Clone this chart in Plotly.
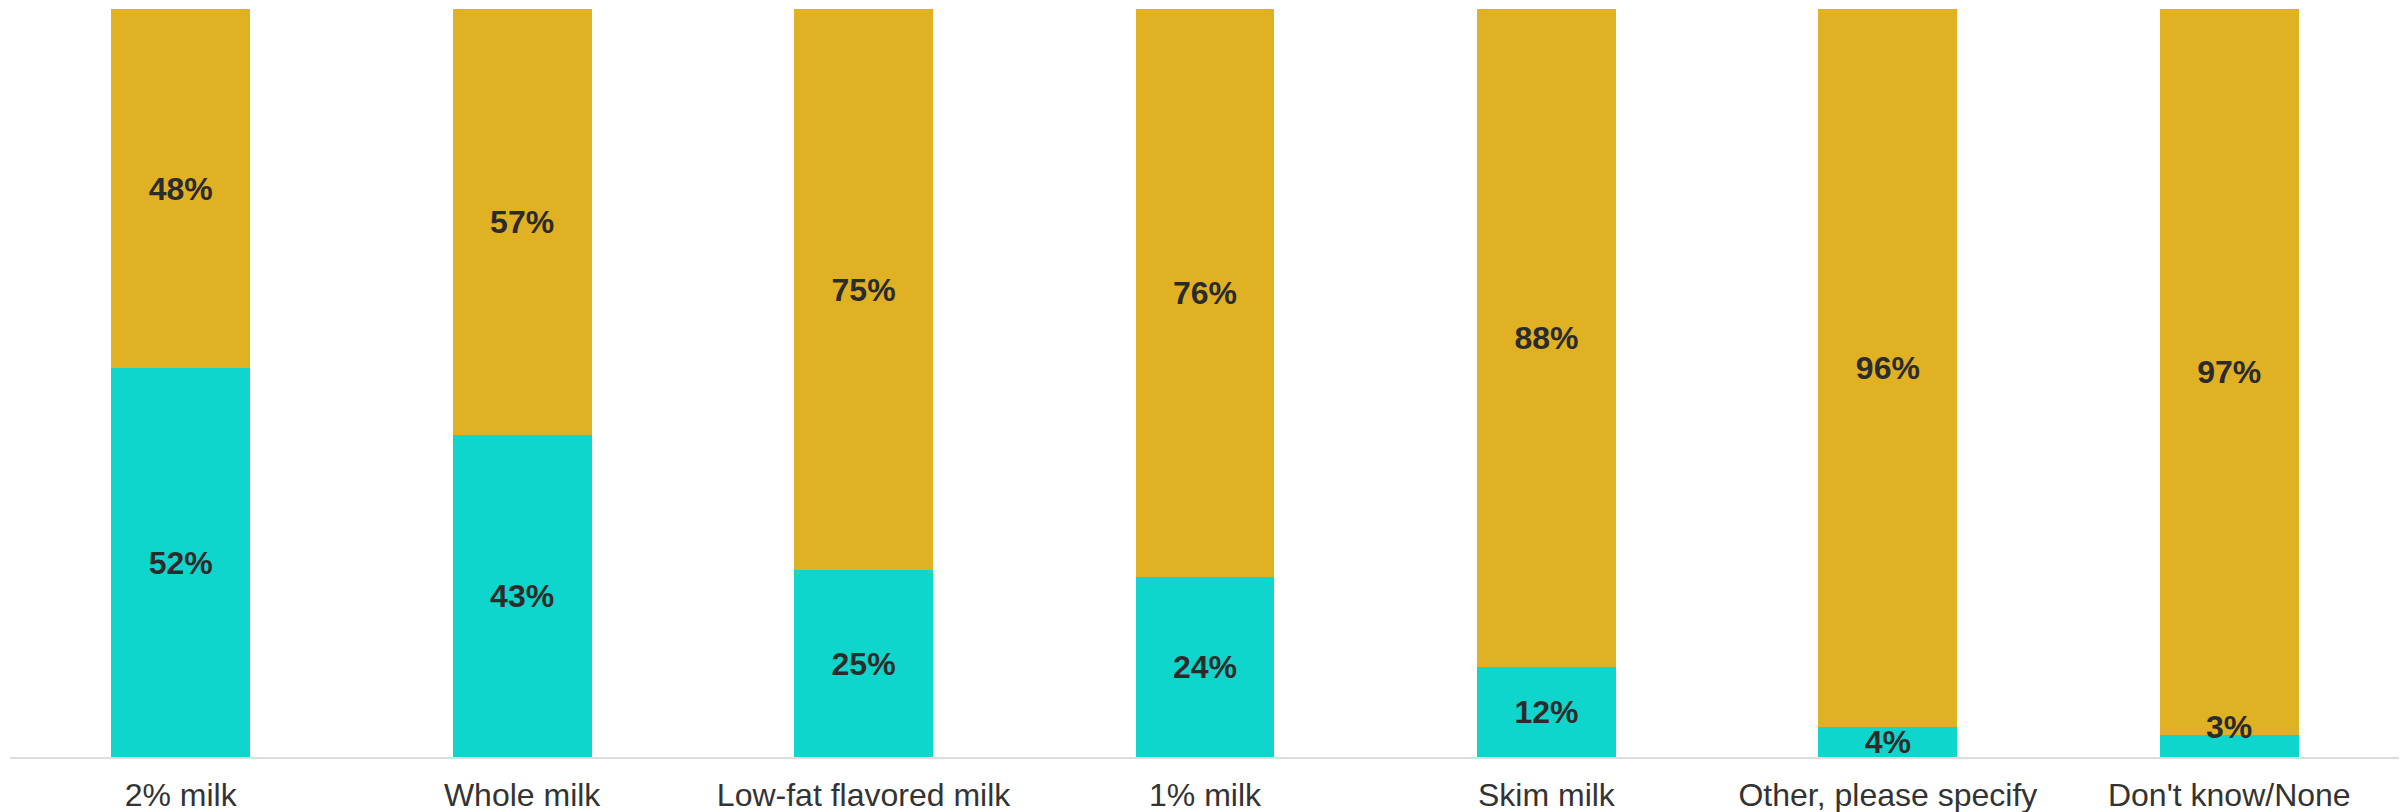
import plotly.graph_objects as go

categories = ["2% milk", "Whole milk", "Low-fat flavored milk", "1% milk",
              "Skim milk", "Other, please specify", "Don't know/None"]
yes_values = [52, 43, 25, 24, 12, 4, 3]
no_values = [48, 57, 75, 76, 88, 96, 97]

teal = "#0fd6cc"
gold = "#e1b124"
font_family = "Liberation Sans, Arial, sans-serif"
label_font = dict(family=font_family, size=32, color="#2b2b2b")

# the smallest segment's label sits just above its segment
yes_text = [f"<b>{v}%</b>" if v > 3 else "" for v in yes_values]

fig = go.Figure()
fig.add_trace(go.Bar(
    x=categories, y=yes_values, marker=dict(color=teal, line=dict(width=0)),
    text=yes_text, textposition="inside",
    insidetextanchor="middle", textangle=0, constraintext="none",
    insidetextfont=label_font, name="Yes", hoverinfo="skip",
))
fig.add_trace(go.Bar(
    x=categories, y=no_values, marker=dict(color=gold, line=dict(width=0)),
    text=[f"<b>{v}%</b>" for v in no_values], textposition="inside",
    insidetextanchor="middle", textangle=0, constraintext="none",
    insidetextfont=label_font, name="No", hoverinfo="skip",
))

for c, v in zip(categories, yes_values):
    if v <= 3:
        fig.add_annotation(x=c, y=v, text=f"<b>{v}%</b>", showarrow=False,
                           yanchor="middle", yshift=8, font=label_font)

fig.update_layout(
    barmode="stack", bargap=0.593, showlegend=False,
    width=2407, height=812,
    margin=dict(l=2, r=15, t=1, b=63),
    paper_bgcolor="white", plot_bgcolor="white",
    xaxis=dict(showline=True, linecolor="#dcdcdc", linewidth=2, ticks="",
               ticklabelstandoff=9, showgrid=False,
               tickfont=dict(family=font_family, size=32, color="#333333")),
    yaxis=dict(range=[0, 100], visible=False, showgrid=False, zeroline=False),
)
fig.write_html("out.html", config={"displayModeBar": False})
